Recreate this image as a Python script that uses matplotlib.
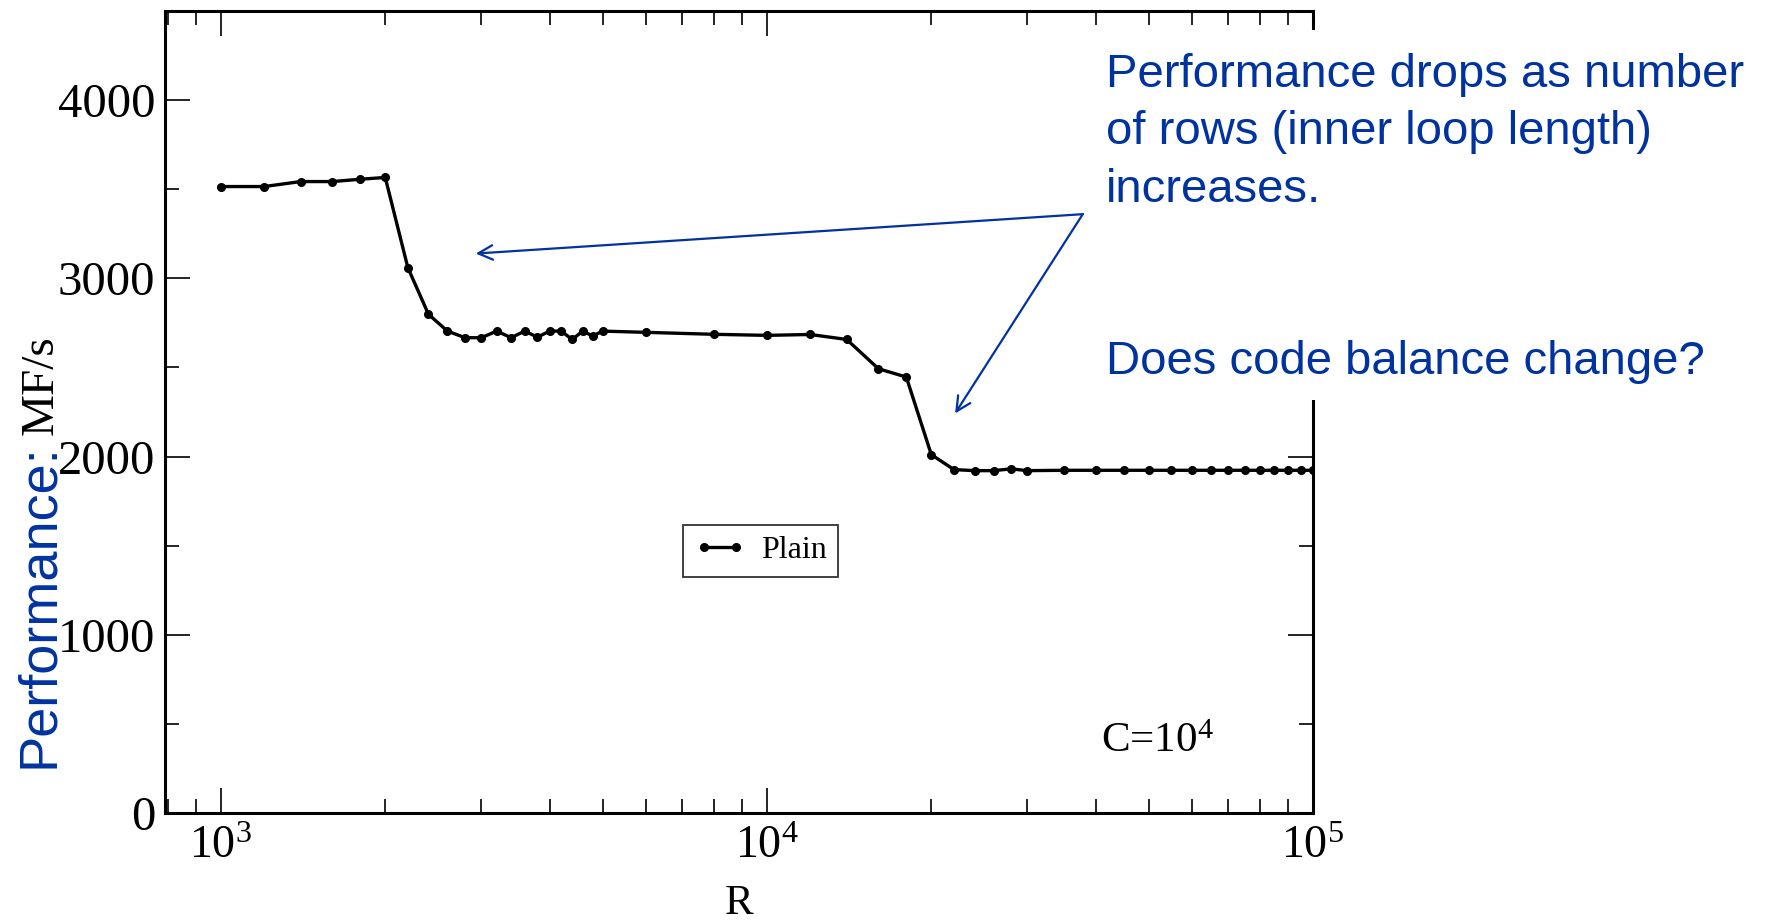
import numpy as np
import matplotlib
matplotlib.use("Agg")
import matplotlib.pyplot as plt
from matplotlib.ticker import MultipleLocator, LogLocator, NullFormatter
from matplotlib.patches import Rectangle

plt.rcParams['font.family'] = ['Liberation Serif', 'DejaVu Serif']
plt.rcParams['mathtext.fontset'] = 'custom'
plt.rcParams['mathtext.rm'] = 'Liberation Serif'
plt.rcParams['mathtext.it'] = 'Liberation Serif:italic'

# number of rows R vs. performance (MF/s), C = 10^4
rows = [1000, 1200, 1400, 1600, 1800, 2000, 2200, 2400, 2600, 2800,
        3000, 3200, 3400, 3600, 3800, 4000, 4200, 4400, 4600, 4800,
        5000, 6000, 8000, 10000, 12000, 14000, 16000, 18000, 20000, 22000,
        24000, 26000, 28000, 30000, 35000, 40000, 45000, 50000, 55000, 60000,
        65000, 70000, 75000, 80000, 85000, 90000, 95000, 100000]
mflops = [3515, 3515, 3543, 3543, 3556, 3566, 3060, 2798, 2704, 2667,
          2667, 2704, 2667, 2704, 2670, 2704, 2704, 2657, 2704, 2676,
          2704, 2697, 2686, 2680, 2685, 2657, 2493, 2446, 2011, 1927,
          1921, 1921, 1931, 1921, 1923, 1923, 1923, 1923, 1923, 1923,
          1923, 1923, 1923, 1923, 1923, 1923, 1923, 1923]

series_label = "Plain"
note_lines = ["Performance drops as number",
              "of rows (inner loop length)",
              "increases."]
question = "Does code balance change?"

# arrow tail and heads (data coords)
arrow_tail = (37880, 3360)
arrow_heads = [(2929, 3139), (22110, 2242)]

blue = '#0033A0'

fig = plt.figure(figsize=(17.7, 9.24), dpi=100)
ax = fig.add_axes([0.0932, 0.1201, 0.6486, 0.8680])

ax.plot(rows, mflops, color='black', lw=2.4, marker='o', markersize=5.5,
        label=series_label)

ax.set_xscale('log')
ax.set_xlim(790, 1e5)
ax.set_ylim(0, 4500)
ax.yaxis.set_major_locator(MultipleLocator(1000))
ax.yaxis.set_minor_locator(MultipleLocator(500))
ax.xaxis.set_major_locator(LogLocator(base=10))
ax.xaxis.set_minor_locator(LogLocator(base=10, subs=np.arange(2, 10)))
ax.xaxis.set_minor_formatter(NullFormatter())

for sp in ax.spines.values():
    sp.set_linewidth(2.2)
ax.tick_params(which='both', direction='in', top=True, right=True, width=1.2)
ax.tick_params(which='major', length=18)
ax.tick_params(which='minor', length=10)
ax.tick_params(axis='y', labelsize=35, pad=7)
ax.tick_params(axis='x', labelsize=33, pad=9)

ax.set_xlabel('R', fontsize=31, labelpad=12)

leg = ax.legend(loc='center', bbox_to_anchor=(0.519, 0.327), fontsize=23,
                frameon=True, fancybox=False, numpoints=2, handlelength=1.6,
                handletextpad=0.5, borderpad=0.35, borderaxespad=0)
leg.get_frame().set_edgecolor('black')
leg.get_frame().set_linewidth(1.3)

ax.text(0.815, 0.076, r'C=10$^{4}$', transform=ax.transAxes, fontsize=31)

for head in arrow_heads:
    ax.annotate('', xy=head, xytext=arrow_tail, annotation_clip=False,
                arrowprops=dict(arrowstyle='->', color=blue, lw=1.6,
                                mutation_scale=26, shrinkA=0, shrinkB=0))

# white panel behind the notes, hides the right spine there
fig.add_artist(Rectangle((1090 / 1770, 1 - 400 / 924), 1 - 1090 / 1770, 370 / 924,
                         transform=fig.transFigure, facecolor='white',
                         edgecolor='none', zorder=2))

for i, line in enumerate(note_lines):
    fig.text(0.6249, 0.9062 - i * 0.0625, line, fontsize=34, color=blue,
             family='Liberation Sans', va='baseline', zorder=3)
fig.text(0.6249, 0.5952, question, fontsize=34, color=blue,
         family='Liberation Sans', va='baseline', zorder=3)

# y label: blue sans part + black serif units
fig.text(0.0299, 0.1688, 'Performance:', fontsize=39, color=blue,
         family='Liberation Sans', rotation=90, rotation_mode='anchor',
         ha='left', va='baseline')
fig.text(0.0299, 0.5292, 'MF/s', fontsize=34, color='black',
         rotation=90, rotation_mode='anchor', ha='left', va='baseline')

fig.savefig('out.png', dpi=100)
